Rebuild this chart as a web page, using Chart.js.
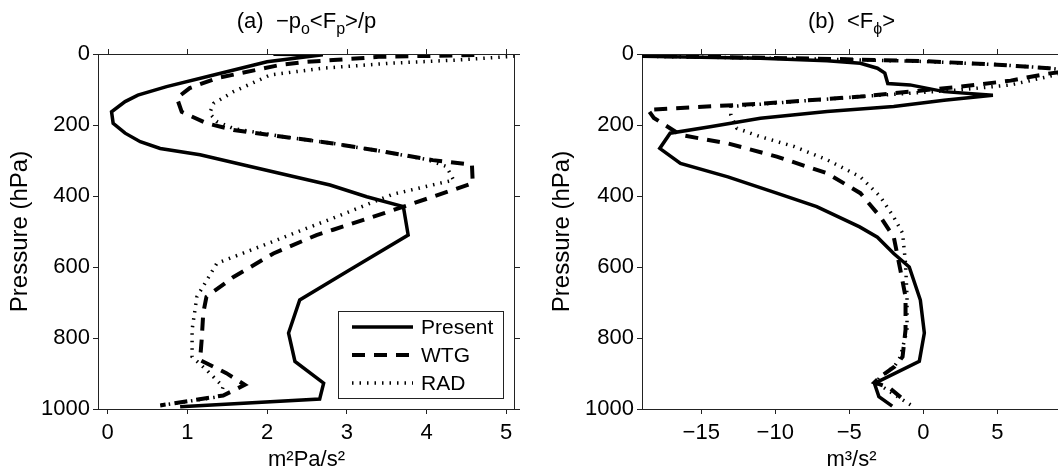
<!DOCTYPE html>
<html>
<head>
<meta charset="utf-8">
<script src="https://cdn.jsdelivr.net/npm/chart.js@4.4.1/dist/chart.umd.min.js"></script>
<style>
  html, body { margin: 0; padding: 0; background: #fff; overflow: hidden; width: 1058px; height: 476px; }
  canvas { position: absolute; top: 0; }
  #panelA { left: 0; }
  #panelB { left: 542px; }
</style>
</head>
<body>
<canvas id="panelA" width="530" height="476"></canvas>
<canvas id="panelB" width="534" height="476"></canvas>
<script>
// tick labels
const yTicks = [0, 200, 400, 600, 800, 1000];
const xTicksA = [0, 1, 2, 3, 4, 5];
const xTicksB = [-15, -10, -5, 0, 5];
const seriesNames = ['Present', 'WTG', 'RAD'];

// panel (a)  -p0<Fp>/p   (value, pressure)
const presentA = [2.08, 2.7, 2.0, 1.33, 0.74, 0.38, 0.22, 0.05, 0.07, 0.22, 0.41, 0.66, 1.16, 1.79, 2.33, 2.79, 3.25, 3.71, 3.77, 3.04, 2.41, 2.27, 2.35, 2.71, 2.66, 0.91];
const presentAp = [1, 2, 22, 59, 92, 116, 134, 163, 195, 223, 247, 266, 284, 317, 345, 369, 402, 430, 510, 608, 693, 786, 866, 927, 972, 994];
const wtgA = [4.6, 3.4, 3.16, 2.83, 2.5, 2.16, 1.37, 1.03, 0.87, 0.93, 1.24, 1.58, 2.2, 2.83, 3.46, 4.08, 4.57, 4.58, 4.08, 3.46, 2.83, 2.62, 2.08, 1.58, 1.24, 1.2, 1.18, 1.16, 1.49, 1.72, 1.45, 0.66];
const wtgAp = [3, 8, 12, 17, 22, 31, 68, 96, 124, 163, 195, 214, 233, 252, 275, 299, 312, 364, 402, 449, 495, 510, 562, 628, 684, 730, 806, 862, 899, 932, 962, 990];
const radA = [5.2, 4.38, 3.54, 2.7, 2.04, 1.58, 1.33, 1.28, 1.37, 1.58, 2.2, 2.83, 3.46, 4.0, 4.25, 4.34, 3.58, 2.83, 2.12, 1.37, 1.12, 1.06, 1.06, 1.24, 1.45, 1.41, 0.66];
const radAp = [5, 17, 26, 40, 59, 106, 139, 167, 190, 210, 233, 252, 275, 297, 317, 355, 395, 462, 524, 590, 684, 777, 853, 890, 937, 965, 990];

// panel (b)  <F_phi>
const presentB = [-19, -11, -6.5, -4.25, -3.1, -2.6, -2.4, -0.9, 1.4, 4.7, 1.4, -2.0, -6.5, -11, -14.4, -17.1, -17.8, -16.4, -13.2, -9.9, -7.2, -4.3, -3.1, -2.0, -0.95, -0.2, 0.07, -0.27, -3.3, -3.0, -2.1];
const presentBp = [6, 12, 19, 26, 40, 54, 83, 87, 106, 116, 130, 148, 162, 181, 205, 223, 266, 308, 346, 392, 430, 487, 516, 562, 600, 693, 786, 866, 928, 965, 992];
const wtgB = [-19, -6, 0, 5, 8.5, 10, 8.3, 5.9, 2.5, -4.25, -11, -18.6, -18.2, -16.4, -13.2, -9.9, -6.5, -4.25, -2.9, -2.0, -1.55, -1.2, -1.2, -1.4, -1.95, -2.9, -3.3, -2.3, -1.3];
const wtgBp = [5, 14, 20, 30, 40, 47, 56, 75, 92, 120, 140, 157, 180, 228, 252, 289, 336, 392, 459, 515, 608, 684, 777, 853, 881, 909, 925, 940, 975];
const radB = [-19, -6, 0, 5, 8.5, 10, 8.4, 5.9, 2.5, -4.25, -8.7, -13, -13, -12.6, -11, -8.7, -6.5, -4.25, -2.9, -2.0, -1.4, -1.2, -1.1, -1.1, -1.55, -1.95, -2.9, -3.2, -2.3, -0.8];
const radBp = [6, 15, 21, 30, 40, 48, 64, 87, 101, 120, 134, 148, 172, 209, 233, 261, 298, 346, 402, 459, 505, 590, 684, 777, 853, 880, 909, 925, 950, 990];

const FONT = 'Liberation Sans, Arial, sans-serif';

function pts(xs, ps) { return xs.map((x, i) => ({ x: x, y: ps[i] })); }

const lineStyles = [
  { borderWidth: 3.5, borderDash: [] },
  { borderWidth: 4, borderDash: [13, 9] },
  { borderWidth: 3.5, borderDash: [1.5, 6] }
];

function makeDatasets(series) {
  return series.map((s, i) => Object.assign({
    label: seriesNames[i],
    data: pts(s[0], s[1]),
    showLine: true,
    borderColor: '#000',
    pointRadius: 0,
    tension: 0,
    clip: 0
  }, lineStyles[i]));
}

const frame = {
  id: 'frame',
  afterDraw(chart) {
    const { ctx, chartArea: a, scales } = chart;
    ctx.save();
    ctx.strokeStyle = '#222';
    ctx.lineWidth = 1;
    ctx.beginPath();
    ctx.moveTo(a.left, a.top + 0.5); ctx.lineTo(a.right, a.top + 0.5);
    ctx.moveTo(a.right - 0.5, a.top); ctx.lineTo(a.right - 0.5, a.bottom);
    scales.x.ticks.forEach(t => {
      const px = Math.round(scales.x.getPixelForValue(t.value)) + 0.5;
      ctx.moveTo(px, a.top); ctx.lineTo(px, a.top - 5);
    });
    scales.y.ticks.forEach(t => {
      const py = Math.round(scales.y.getPixelForValue(t.value)) + 0.5;
      ctx.moveTo(a.right, py); ctx.lineTo(a.right + 5, py);
    });
    ctx.stroke();
    ctx.restore();
  }
};

// title with subscripts
const richTitle = {
  id: 'richTitle',
  afterDraw(chart, args, opts) {
    if (!opts.parts) return;
    const { ctx, chartArea: a } = chart;
    ctx.save();
    ctx.fillStyle = '#000';
    ctx.textBaseline = 'alphabetic';
    const big = '22px ' + FONT, small = '16px ' + FONT;
    let w = 0;
    opts.parts.forEach(p => { ctx.font = p[1] ? small : big; w += ctx.measureText(p[0]).width; });
    let x = (a.left + a.right) / 2 - w / 2;
    opts.parts.forEach(p => {
      ctx.font = p[1] ? small : big;
      ctx.fillText(p[0], x, 28 + (p[1] ? 6 : 0));
      x += ctx.measureText(p[0]).width;
    });
    ctx.restore();
  }
};

const boxLegend = {
  id: 'boxLegend',
  afterDraw(chart, args, opts) {
    if (!opts.show) return;
    const ctx = chart.ctx;
    ctx.save();
    ctx.strokeStyle = '#222';
    ctx.lineWidth = 1;
    ctx.strokeRect(338.5, 311.5, 165, 87);
    ctx.font = '21px ' + FONT;
    ctx.textBaseline = 'middle';
    chart.data.datasets.forEach((ds, i) => {
      const y = 327 + i * 28;
      ctx.beginPath();
      ctx.strokeStyle = '#000';
      ctx.lineWidth = ds.borderWidth;
      ctx.setLineDash(ds.borderDash);
      ctx.moveTo(352, y); ctx.lineTo(413, y);
      ctx.stroke();
      ctx.setLineDash([]);
      ctx.fillStyle = '#000';
      ctx.fillText(ds.label, 421, y + 1);
    });
    ctx.restore();
  }
};

function makeChart(id, series, xMin, xMax, xTicks, xTitle, yWidth, padRight, parts, legend) {
  return new Chart(document.getElementById(id), {
    type: 'scatter',
    data: { datasets: makeDatasets(series) },
    options: {
      responsive: false,
      animation: false,
      devicePixelRatio: 1,
      layout: { padding: { left: 0, right: padRight, top: 54, bottom: 0 } },
      plugins: {
        legend: { display: false },
        tooltip: { enabled: false },
        richTitle: { parts: parts },
        boxLegend: { show: legend }
      },
      scales: {
        x: {
          type: 'linear',
          min: xMin,
          max: xMax,
          afterBuildTicks: s => { s.ticks = xTicks.map(v => ({ value: v })); },
          afterFit: s => { s.height = 67; },
          grid: { drawOnChartArea: false, drawTicks: true, tickLength: 5, color: '#222' },
          border: { display: true, color: '#222', width: 1 },
          ticks: {
            color: '#000', padding: 6, maxRotation: 0,
            font: { family: FONT, size: 22 },
            callback: v => (v < 0 ? '\u2212' + Math.abs(v) : String(v))
          },
          title: { display: true, text: xTitle, color: '#000', font: { family: FONT, size: 22 }, padding: { top: 0, bottom: 3 } }
        },
        y: {
          type: 'linear',
          reverse: true,
          min: 0,
          max: 1000,
          afterBuildTicks: s => { s.ticks = yTicks.map(v => ({ value: v })); },
          afterFit: s => { s.width = yWidth; },
          grid: { drawOnChartArea: false, drawTicks: true, tickLength: 5, color: '#222' },
          border: { display: true, color: '#222', width: 1 },
          ticks: { color: '#000', padding: 3, font: { family: FONT, size: 22 }, callback: v => String(v) },
          title: { display: true, text: 'Pressure (hPa)', color: '#000', font: { family: FONT, size: 24 }, padding: { top: 6, bottom: 0 } }
        }
      }
    },
    plugins: [frame, richTitle, boxLegend]
  });
}

makeChart('panelA',
  [[presentA, presentAp], [wtgA, wtgAp], [radA, radAp]],
  -0.12, 5.11, xTicksA, 'm\u00b2Pa/s\u00b2', 98, 15,
  [['(a)  \u2212p', 0], ['o', 1], ['<F', 0], ['p', 1], ['>/p', 0]], true);

makeChart('panelB',
  [[presentB, presentBp], [wtgB, wtgBp], [radB, radBp]],
  -19, 9.3, xTicksB, 'm\u00b3/s\u00b2', 100, 15,
  [['(b)  <F', 0], ['\u03d5', 1], ['>', 0]], false);
</script>
</body>
</html>
